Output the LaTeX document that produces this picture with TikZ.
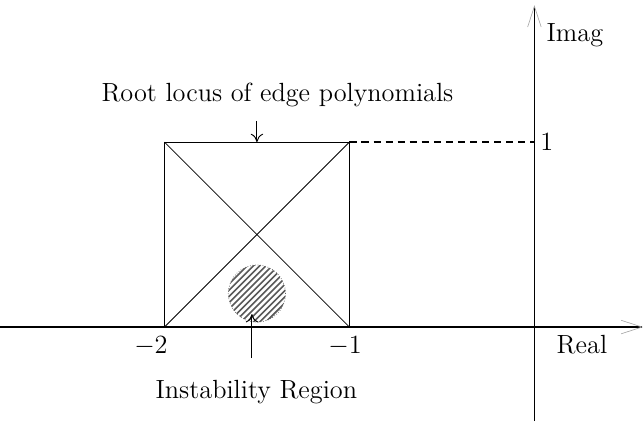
\documentclass[tikz,border=0pt]{standalone}
\usepackage{tikz}
\usetikzlibrary{arrows.meta,positioning}
\tikzset{
  axis/.style={line width=0.8pt, -{Straight Barb[length=4mm,width=2.6mm,line width=0.35pt,color=black!35]}},
  edge/.style={line width=0.6pt},
  diag/.style={line width=0.4pt},
  guide/.style={line width=0.8pt, dash pattern=on 4pt off 2.6pt},
  ptr/.style={line width=0.5pt, -{To[length=1.6mm,width=2.4mm]}},
  region/.style={circle, draw=black!60, densely dotted, line width=0.4pt, inner sep=0pt,
    path picture={
      \foreach \i in {-10,...,10}
        \draw[solid, line width=0.9pt, black!65]
          ([xshift=\i*1.2mm]path picture bounding box.center) +(-8mm,-8mm) -- +(8mm,8mm);
    }}
}
\begin{document}
\begin{tikzpicture}[x=3.56cm, y=3.56cm,
  lbl/.style={inner sep=2pt, font=\Large}]
\useasboundingbox (-2.889,-0.508) rectangle (0.587,1.768);
% axes
\coordinate (xL) at (-2.889,0);
\coordinate (xR) at (0.587,0);
\coordinate (yB) at (0,-0.508);
\coordinate (yT) at (0,1.74);
\draw[axis] (xL) -- (xR);
\draw[axis] (yB) -- (yT);

% square of edge polynomials
\coordinate (A) at (-2,0);
\coordinate (B) at (-1,0);
\coordinate (C) at (-1,1);
\coordinate (D) at (-2,1);
\coordinate (one) at (0,1);
\draw[edge] (A) -- (B) -- (C) -- (D) -- cycle;
\draw[diag] (A) -- (C);
\draw[diag] (B) -- (D);
\draw[guide] (C) -- (one);

% instability region
\node[region, minimum size=1.1cm] (instab) at (-1.5,0.181) {};

% labels
\node[lbl, inner sep=3pt, anchor=west] (lone) at (one) {1};
\node[lbl] (lmtwo) at (-2.073,-0.105) {$-2$};
\node[lbl] (lmone) at (-1.024,-0.105) {$-1$};
\node[lbl] (lreal) at (0.257,-0.095) {Real};
\node[lbl] (limag) at (0.219,1.578) {Imag};
\node[lbl] (lroot) at (-1.389,1.254) {Root locus of edge polynomials};
\node[lbl] (linst) at (-1.503,-0.354) {Instability Region};

% pointers
\coordinate (rootS) at (-1.5,1.114);
\coordinate (topmid) at (-1.5,1.0);
\coordinate (instS) at (-1.527,-0.168);
\coordinate (instT) at (-1.527,0.07);
\draw[ptr] (rootS) -- (topmid);
\draw[ptr] (instS) -- (instT);
\end{tikzpicture}
\end{document}
